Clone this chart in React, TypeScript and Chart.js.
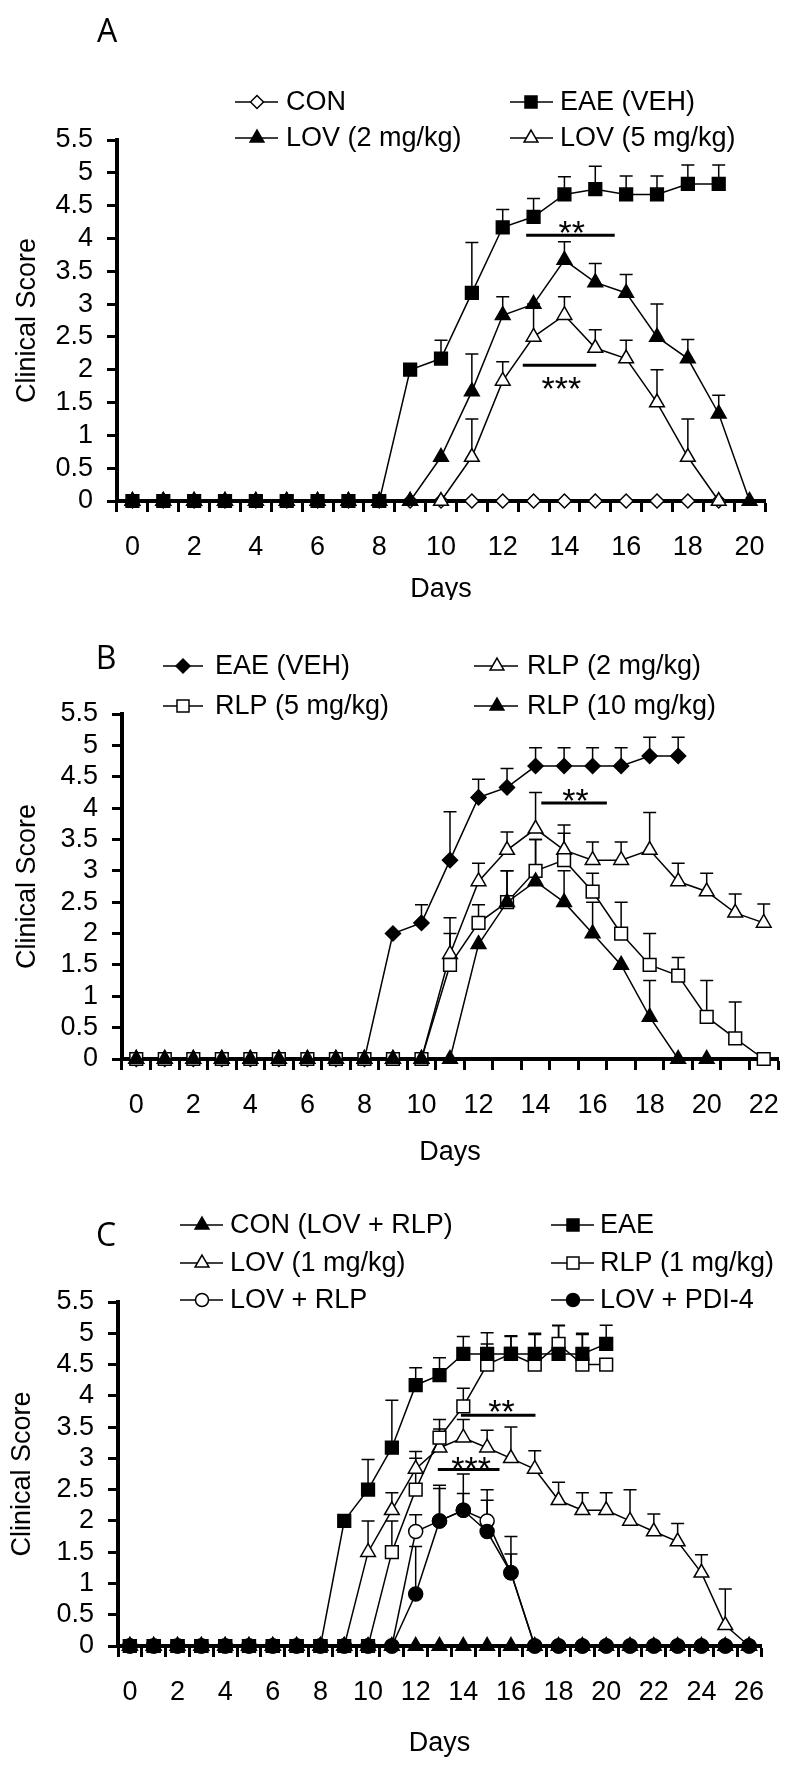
import React, { useEffect, useRef } from 'react';
import { Chart, registerables } from 'chart.js';
import { drawPoint } from 'chart.js/helpers';

Chart.register(...registerables);

const FONT = '"Liberation Sans", Arial, Helvetica, sans-serif';
const LETTER_FONT = '"Open Sans", "Noto Sans", sans-serif';

// ---------- shared ----------
const Y_TICK_LABELS = ['0', '0.5', '1', '1.5', '2', '2.5', '3', '3.5', '4', '4.5', '5', '5.5'];
const X_TITLE = 'Days';
const Y_TITLE = 'Clinical Score';

// ---------- Panel A ----------
const DAYS_A = ['0','1','2','3','4','5','6','7','8','9','10','11','12','13','14','15','16','17','18','19','20'];
const A_CON = [0,0,0,0,0,0,0,0,0,0,0,0,0,0,0,0,0,0,0,0,null];
const A_EAE = [0,0,0,0,0,0,0,0,0,2.0,2.17,3.17,4.17,4.33,4.67,4.75,4.67,4.67,4.83,4.83,null];
const A_EAE_ERR = [0,0,0,0,0,0,0,0,0,0,0.28,0.77,0.27,0.28,0.27,0.35,0.28,0.28,0.29,0.29,null];
const A_LOV2 = [0,0,0,0,0,0,0,0,0,0,0.67,1.67,2.83,3.0,3.67,3.33,3.17,2.5,2.17,1.33,0];
const A_LOV2_ERR = [0,0,0,0,0,0,0,0,0,0,0,0.57,0.28,0,0.28,0.29,0.28,0.5,0.29,0.28,0];
const A_LOV5 = [0,0,0,0,0,0,0,0,0,0,0,0.67,1.83,2.5,2.83,2.33,2.17,1.5,0.67,0,null];
const A_LOV5_ERR = [0,0,0,0,0,0,0,0,0,0,0,0.58,0.29,0.5,0.28,0.28,0.28,0.5,0.58,0,null];
const A_SIG = [
  { from: 12.76, to: 15.63, at: 4.05, text: '**', tx: 14.24, ty: 4.21 },
  { from: 12.65, to: 15.03, at: 2.07, text: '***', tx: 13.9, ty: 1.84 },
];

// ---------- Panel B ----------
const DAYS_B = ['0','1','2','3','4','5','6','7','8','9','10','11','12','13','14','15','16','17','18','19','20','21','22'];
const B_EAE = [0,0,0,0,0,0,0,0,0,2.0,2.17,3.17,4.17,4.33,4.67,4.67,4.67,4.67,4.83,4.83,null,null,null];
const B_EAE_ERR = [0,0,0,0,0,0,0,0,0,0,0.29,0.77,0.29,0.3,0.29,0.29,0.29,0.29,0.3,0.3,null,null,null];
const B_RLP2 = [0,0,0,0,0,0,0,0,0,0,0,1.67,2.83,3.33,3.67,3.33,3.17,3.17,3.33,2.83,2.67,2.33,2.17];
const B_RLP2_ERR = [0,0,0,0,0,0,0,0,0,0,0,0.58,0.29,0.29,0.58,0.4,0.29,0.29,0.6,0.29,0.29,0.3,0.3];
const B_RLP5 = [0,0,0,0,0,0,0,0,0,0,0,1.5,2.17,2.5,3.0,3.17,2.67,2.0,1.5,1.33,0.67,0.33,0];
const B_RLP5_ERR = [0,0,0,0,0,0,0,0,0,0,0,0.5,0.29,0.5,0.5,0.43,0.29,0.5,0.5,0.29,0.58,0.58,0];
const B_RLP10 = [0,0,0,0,0,0,0,0,0,0,0,0,1.83,2.5,2.83,2.5,2.0,1.5,0.67,0,0,null,null];
const B_RLP10_ERR = [0,0,0,0,0,0,0,0,0,0,0,0,0,0.5,0.67,0.5,0.5,0,0.58,0,0,null,null];
const B_SIG = [
  { from: 14.2, to: 16.5, at: 4.08, text: '**', tx: 15.4, ty: 4.25 },
];

// ---------- Panel C ----------
const DAYS_C = ['0','1','2','3','4','5','6','7','8','9','10','11','12','13','14','15','16','17','18','19','20','21','22','23','24','25','26'];
const C_CON = [0,0,0,0,0,0,0,0,0,0,0,0,0,0,0,0,0,0,0,0,0,0,0,0,0,0,0];
const C_EAE = [0,0,0,0,0,0,0,0,0,2.0,2.5,3.17,4.17,4.33,4.67,4.67,4.67,4.67,4.67,4.67,4.83,null,null,null,null,null,null];
const C_EAE_ERR = [0,0,0,0,0,0,0,0,0,0,0.48,0.76,0.28,0.28,0.28,0.34,0.28,0.31,0.45,0.31,0.3,null,null,null,null,null,null];
const C_LOV1 = [0,0,0,0,0,0,0,0,0,0,1.5,2.17,2.83,3.17,3.33,3.17,3.0,2.83,2.33,2.17,2.17,2.0,1.83,1.67,1.17,0.33,0];
const C_LOV1_ERR = [0,0,0,0,0,0,0,0,0,0,0.5,0.28,0.28,0.3,0.29,0.28,0.5,0.29,0.29,0.28,0.28,0.5,0.28,0.29,0.29,0.58,0];
const C_RLP1 = [0,0,0,0,0,0,0,0,0,0,0,1.5,2.5,3.33,3.83,4.5,4.67,4.5,4.83,4.5,4.5,null,null,null,null,null,null];
const C_RLP1_ERR = [0,0,0,0,0,0,0,0,0,0,0,0.5,0.5,0.29,0.29,0.33,0.29,0.5,0.3,0.5,0,null,null,null,null,null,null];
const C_LOVRLP = [0,0,0,0,0,0,0,0,0,0,0,0,1.83,2.0,2.17,2.0,1.17,0,0,0,0,0,0,0,0,0,0];
const C_LOVRLP_ERR = [0,0,0,0,0,0,0,0,0,0,0,0,0.27,0.52,0.27,0.5,0.3,0,0,0,0,0,0,0,0,0,0];
const C_PDI4 = [0,0,0,0,0,0,0,0,0,0,0,0,0.83,2.0,2.17,1.83,1.17,0,0,0,0,0,0,0,0,0,0];
const C_PDI4_ERR = [0,0,0,0,0,0,0,0,0,0,0,0,0.76,0.57,0.58,0.5,0.58,0,0,0,0,0,0,0,0,0,0];
const C_SIG = [
  { from: 13.9, to: 17.03, at: 3.69, text: '**', tx: 15.6, ty: 3.88 },
  { from: 12.93, to: 15.52, at: 2.82, text: '***', tx: 14.33, ty: 2.97 },
];

type Style = 'rect' | 'triangle' | 'rectRot' | 'circle';
interface Series {
  label: string;
  data: (number | null)[];
  err: (number | null)[];
  style: Style;
  filled: boolean;
  radius: number;
  order: number;
}
interface LegendCol { l1: number; l2: number; m: number; t: number }
interface Panel {
  days: string[];
  series: Series[];
  legend: (number | null)[][];
  rows: number[];
  cols: LegendCol[];
  sig: { from: number; to: number; at: number; text: string; tx: number; ty: number }[];
  letter: string;
  letterPos: [number, number];
  height: number;
  yw: number;
  padR: number;
  padT: number;
  xh: number;
  yTitleX: number;
  xTitleDy: number;
}

const PANEL_A: Panel = {
  days: DAYS_A,
  series: [
    { label: 'CON', data: A_CON, err: [], style: 'rectRot', filled: false, radius: 7, order: 3 },
    { label: 'EAE (VEH)', data: A_EAE, err: A_EAE_ERR, style: 'rect', filled: true, radius: 9, order: 0 },
    { label: 'LOV (2 mg/kg)', data: A_LOV2, err: A_LOV2_ERR, style: 'triangle', filled: true, radius: 8.5, order: 1 },
    { label: 'LOV (5 mg/kg)', data: A_LOV5, err: A_LOV5_ERR, style: 'triangle', filled: false, radius: 8.5, order: 2 },
  ],
  legend: [[0, 1], [2, 3]],
  rows: [102, 138],
  cols: [{ l1: 235, l2: 278, m: 257, t: 286 }, { l1: 510, l2: 553, m: 531, t: 560 }],
  sig: A_SIG,
  letter: 'A',
  letterPos: [107, 33],
  height: 600,
  yw: 117,
  padR: 35,
  padT: 140,
  xh: 99,
  yTitleX: 28,
  xTitleDy: 89,
};

const PANEL_B: Panel = {
  days: DAYS_B,
  series: [
    { label: 'EAE (VEH)', data: B_EAE, err: B_EAE_ERR, style: 'rectRot', filled: true, radius: 7.5, order: 3 },
    { label: 'RLP (2 mg/kg)', data: B_RLP2, err: B_RLP2_ERR, style: 'triangle', filled: false, radius: 8.5, order: 2 },
    { label: 'RLP (5 mg/kg)', data: B_RLP5, err: B_RLP5_ERR, style: 'rect', filled: false, radius: 9, order: 1 },
    { label: 'RLP (10 mg/kg)', data: B_RLP10, err: B_RLP10_ERR, style: 'triangle', filled: true, radius: 8.5, order: 0 },
  ],
  legend: [[0, 1], [2, 3]],
  rows: [666, 706].map((v) => v - 600),
  cols: [{ l1: 163, l2: 203, m: 183, t: 215 }, { l1: 474, l2: 518, m: 497, t: 527 }],
  sig: B_SIG,
  letter: 'B',
  letterPos: [106, 60],
  height: 570,
  yw: 122,
  padR: 22,
  padT: 114,
  xh: 111,
  yTitleX: 28,
  xTitleDy: 94,
};

const PANEL_C: Panel = {
  days: DAYS_C,
  series: [
    { label: 'CON (LOV + RLP)', data: C_CON, err: [], style: 'triangle', filled: true, radius: 8.5, order: 2 },
    { label: 'EAE', data: C_EAE, err: C_EAE_ERR, style: 'rect', filled: true, radius: 9, order: 0 },
    { label: 'LOV (1 mg/kg)', data: C_LOV1, err: C_LOV1_ERR, style: 'triangle', filled: false, radius: 8.5, order: 5 },
    { label: 'RLP (1 mg/kg)', data: C_RLP1, err: C_RLP1_ERR, style: 'rect', filled: false, radius: 9, order: 4 },
    { label: 'LOV + RLP', data: C_LOVRLP, err: C_LOVRLP_ERR, style: 'circle', filled: false, radius: 7, order: 3 },
    { label: 'LOV + PDI-4', data: C_PDI4, err: C_PDI4_ERR, style: 'circle', filled: true, radius: 7, order: 1 },
  ],
  legend: [[0, 1], [2, 3], [4, 5]],
  rows: [55, 93, 130],
  cols: [{ l1: 180, l2: 223, m: 202, t: 230 }, { l1: 551, l2: 594, m: 573, t: 600 }],
  sig: C_SIG,
  letter: 'C',
  letterPos: [106, 67],
  height: 603,
  yw: 118,
  padR: 39,
  padT: 132,
  xh: 127,
  yTitleX: 23,
  xTitleDy: 98,
};

function makeChart(canvas: HTMLCanvasElement, p: Panel): Chart {
  const datasets = p.series.map((s) => ({
    label: s.label,
    data: s.data,
    errors: s.err,
    borderColor: '#000',
    borderWidth: 1.5,
    pointStyle: s.style,
    pointRadius: s.radius,
    pointHoverRadius: s.radius,
    pointBackgroundColor: s.filled ? '#000' : '#fff',
    pointBorderColor: '#000',
    pointBorderWidth: 1.5,
    fill: false,
    tension: 0,
    spanGaps: false,
    clip: false as any,
    order: s.order,
  }));

  const errorPlugin = {
    id: 'errbars',
    beforeDatasetsDraw(chart: any) {
      const ctx = chart.ctx;
      const ys = chart.scales.y;
      ctx.save();
      ctx.strokeStyle = '#000';
      ctx.lineWidth = 1.5;
      chart.data.datasets.forEach((ds: any, di: number) => {
        const meta = chart.getDatasetMeta(di);
        (ds.errors || []).forEach((e: number | null, i: number) => {
          const v = ds.data[i];
          if (e == null || e <= 0 || v == null) return;
          const pt = meta.data[i];
          if (!pt) return;
          const x = pt.x;
          const y0 = ys.getPixelForValue(v);
          const y1 = ys.getPixelForValue(v + e);
          ctx.beginPath();
          ctx.moveTo(x, y0);
          ctx.lineTo(x, y1);
          ctx.moveTo(x - 6.5, y1);
          ctx.lineTo(x + 6.5, y1);
          ctx.stroke();
        });
      });
      ctx.restore();
    },
  };

  const decorPlugin = {
    id: 'decor',
    afterDraw(chart: any) {
      const ctx = chart.ctx;
      const xs = chart.scales.x;
      const ys = chart.scales.y;
      const area = chart.chartArea;
      ctx.save();
      ctx.fillStyle = '#000';
      ctx.strokeStyle = '#000';

      ctx.font = `32px ${LETTER_FONT}`;
      ctx.textAlign = 'center';
      ctx.textBaseline = 'middle';
      ctx.fillText(p.letter, p.letterPos[0], p.letterPos[1]);

      p.legend.forEach((row, ri) => {
        const y = p.rows[ri];
        row.forEach((si, ci) => {
          if (si == null) return;
          const s = p.series[si];
          const c = p.cols[ci];
          ctx.lineWidth = 1.5;
          ctx.strokeStyle = '#000';
          ctx.beginPath();
          ctx.moveTo(c.l1, y);
          ctx.lineTo(c.l2, y);
          ctx.stroke();
          ctx.fillStyle = s.filled ? '#000' : '#fff';
          ctx.strokeStyle = '#000';
          ctx.lineWidth = 1.5;
          drawPoint(ctx, { pointStyle: s.style, radius: s.radius - 0.5, rotation: 0, borderWidth: 1.5 } as any, c.m, y);
          ctx.fillStyle = '#000';
          ctx.font = `27px ${FONT}`;
          ctx.textAlign = 'left';
          ctx.textBaseline = 'middle';
          ctx.fillText(s.label, c.t, y + 1);
        });
      });

      ctx.fillStyle = '#000';
      ctx.font = `27px ${FONT}`;
      ctx.textAlign = 'center';
      ctx.textBaseline = 'middle';
      ctx.fillText(X_TITLE, (area.left + area.right) / 2, area.bottom + p.xTitleDy);
      ctx.save();
      ctx.translate(p.yTitleX, (area.top + area.bottom) / 2);
      ctx.rotate(-Math.PI / 2);
      ctx.fillText(Y_TITLE, 0, 0);
      ctx.restore();

      p.sig.forEach((g) => {
        const x1 = xs.getPixelForValue(g.from);
        const x2 = xs.getPixelForValue(g.to);
        const y = ys.getPixelForValue(g.at);
        ctx.lineWidth = 3;
        ctx.strokeStyle = '#000';
        ctx.beginPath();
        ctx.moveTo(x1, y);
        ctx.lineTo(x2, y);
        ctx.stroke();
        const size = 34;
        ctx.font = `${size}px ${FONT}`;
        ctx.textAlign = 'center';
        ctx.textBaseline = 'alphabetic';
        ctx.fillStyle = '#000';
        ctx.fillText(g.text, xs.getPixelForValue(g.tx), ys.getPixelForValue(g.ty) + 0.57 * size);
      });
      ctx.restore();
    },
  };

  return new Chart(canvas, {
    type: 'line',
    data: { labels: p.days, datasets: datasets as any },
    options: {
      responsive: false,
      animation: false,
      devicePixelRatio: 1,
      events: [],
      layout: { padding: { left: 0, right: p.padR, top: p.padT, bottom: 0 } },
      plugins: { legend: { display: false }, tooltip: { enabled: false }, title: { display: false } },
      scales: {
        x: {
          type: 'category',
          offset: true,
          grid: {
            offset: true,
            drawOnChartArea: false,
            drawTicks: true,
            tickLength: 11,
            tickWidth: 3,
            tickColor: '#000',
            color: '#000',
          },
          border: { display: true, color: '#000', width: 4 },
          ticks: {
            autoSkip: false,
            maxRotation: 0,
            minRotation: 0,
            padding: 19,
            color: '#000',
            font: { family: FONT, size: 27 },
            callback: (_v: any, i: number) => (i % 2 === 0 ? p.days[i] : ''),
          },
          afterFit: (s: any) => {
            s.height = p.xh;
          },
        },
        y: {
          type: 'linear',
          min: 0,
          max: 5.5,
          grid: {
            drawOnChartArea: false,
            drawTicks: true,
            tickLength: 10,
            tickWidth: 3,
            tickColor: '#000',
            color: '#000',
          },
          border: { display: true, color: '#000', width: 4 },
          ticks: {
            autoSkip: false,
            stepSize: 0.5,
            padding: 14,
            color: '#000',
            font: { family: FONT, size: 27, lineHeight: 1 },
            callback: (_v: any, i: number) => Y_TICK_LABELS[i],
          },
          afterFit: (s: any) => {
            s.width = p.yw;
          },
        },
      },
    } as any,
    plugins: [errorPlugin, decorPlugin],
  });
}

export default function App() {
  const refA = useRef<HTMLCanvasElement>(null);
  const refB = useRef<HTMLCanvasElement>(null);
  const refC = useRef<HTMLCanvasElement>(null);

  useEffect(() => {
    const charts = [
      makeChart(refA.current as HTMLCanvasElement, PANEL_A),
      makeChart(refB.current as HTMLCanvasElement, PANEL_B),
      makeChart(refC.current as HTMLCanvasElement, PANEL_C),
    ];
    return () => charts.forEach((c) => c.destroy());
  }, []);

  const cs = (top: number, h: number): React.CSSProperties => ({
    position: 'absolute',
    left: 0,
    top,
    width: 800,
    height: h,
    display: 'block',
  });

  return (
    <div style={{ position: 'absolute', left: 0, top: 0, width: 800, height: 1773, background: '#fff', overflow: 'hidden' }}>
      <canvas ref={refA} width={800} height={600} style={cs(0, 600)} />
      <canvas ref={refB} width={800} height={570} style={cs(600, 570)} />
      <canvas ref={refC} width={800} height={603} style={cs(1170, 603)} />
    </div>
  );
}
